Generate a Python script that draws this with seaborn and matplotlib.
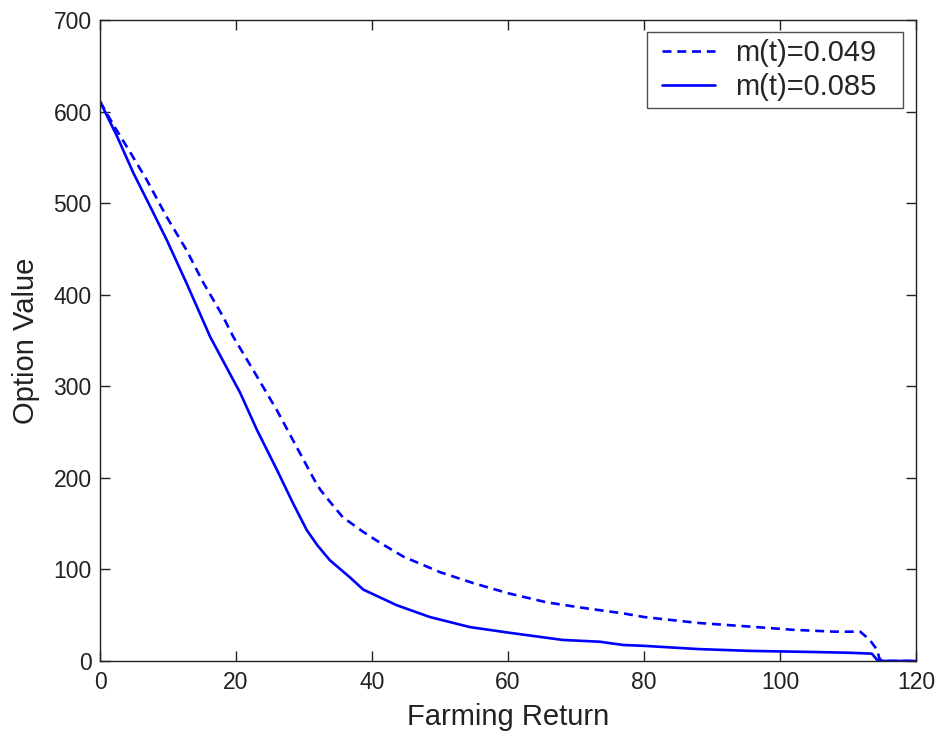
import matplotlib
matplotlib.use("Agg")
import matplotlib.pyplot as plt
import seaborn as sns
import pandas as pd
from matplotlib.legend_handler import HandlerLine2D
from matplotlib.lines import Line2D

# m(t)=0.049 (dashed)
x_049 = [0, 2, 4.4, 6.9, 9.8, 12.7, 15.2, 18.1, 19.6, 22.5, 26, 29.4, 31.5, 32.4, 33.8,
         35.7, 38.7, 41.2, 44.6, 50, 54.9, 60, 65.7, 71, 76.9, 80, 88, 95.6, 102, 108,
         111.8, 113.2, 114.3, 114.6, 115, 120]
y_049 = [611, 585, 556, 525, 485, 449, 413, 376, 354, 318, 274, 227, 198, 187, 174,
         157, 141, 129, 114, 97, 85, 74, 64, 58, 52, 48, 41.5, 37.5, 34, 32,
         32, 23, 12, 3, 0, 0]

# m(t)=0.085 (solid)
x_085 = [0, 2.5, 4.9, 7.4, 9.8, 12.7, 16.2, 20.6, 23.1, 26, 28.4, 30.4, 32, 33.8,
         36.8, 38.7, 43.6, 48.5, 54.4, 60, 68, 73.5, 76.9, 80, 88, 95.6, 104.9, 110,
         113.5, 114.3, 115, 120]
y_085 = [611, 573, 533, 496, 460, 413, 354, 293, 252, 209, 172, 143, 126, 110,
         91, 78, 61, 48, 37, 31, 23, 21, 17.5, 16.5, 13, 11, 9.8, 9,
         8, 1, 0, 0]

labels = ["m(t)=0.049", "m(t)=0.085"]
xticks = [0, 20, 40, 60, 80, 100, 120]
yticks = [0, 100, 200, 300, 400, 500, 600, 700]

sns.set_style("ticks")
plt.rcParams["font.family"] = ["Liberation Sans", "DejaVu Sans"]
plt.rcParams["xtick.direction"] = "in"
plt.rcParams["ytick.direction"] = "in"

fig = plt.figure(figsize=(9.39, 7.34), dpi=100)
ax = fig.add_axes([0.1065, 0.0995, 0.869, 0.8733])

df1 = pd.DataFrame({"x": x_049, "y": y_049})
df2 = pd.DataFrame({"x": x_085, "y": y_085})
sns.lineplot(data=df1, x="x", y="y", ax=ax, color="#0000ff", lw=1.9,
             linestyle=(0, (3.4, 2.2)), label=labels[0], sort=False)
sns.lineplot(data=df2, x="x", y="y", ax=ax, color="#0000ff", lw=1.9,
             linestyle="-", label=labels[1], sort=False)

ax.set_xlim(0, 120)
ax.set_ylim(0, 700)
ax.set_xticks(xticks)
ax.set_yticks(yticks)
ax.tick_params(axis="both", which="both", direction="in", length=7, width=1,
               top=True, right=True, labelsize=16.5, colors="#222222", pad=6)
ax.tick_params(axis="x", pad=7.5)
for s in ax.spines.values():
    s.set_visible(True)
    s.set_linewidth(1.0)
    s.set_color("#222222")

ax.set_xlabel("Farming Return", fontsize=21, color="#222222", labelpad=6.5)
ax.set_ylabel("Option Value", fontsize=21, color="#222222", labelpad=10)

handles, _ = ax.get_legend_handles_labels()
leg = ax.legend(handles, labels, loc="upper right", fontsize=21, frameon=True,
                fancybox=False, edgecolor="#222222", handlelength=2.1,
                borderpad=0.24, labelspacing=0.22, handletextpad=0.68,
                borderaxespad=0, mode="expand",
                bbox_to_anchor=(0.6703, 0.5, 0.3137, 0.4813),
                handler_map={Line2D: HandlerLine2D(xpad=0.26)})
leg.get_frame().set_linewidth(1.0)

fig.savefig("out.png", dpi=100)
